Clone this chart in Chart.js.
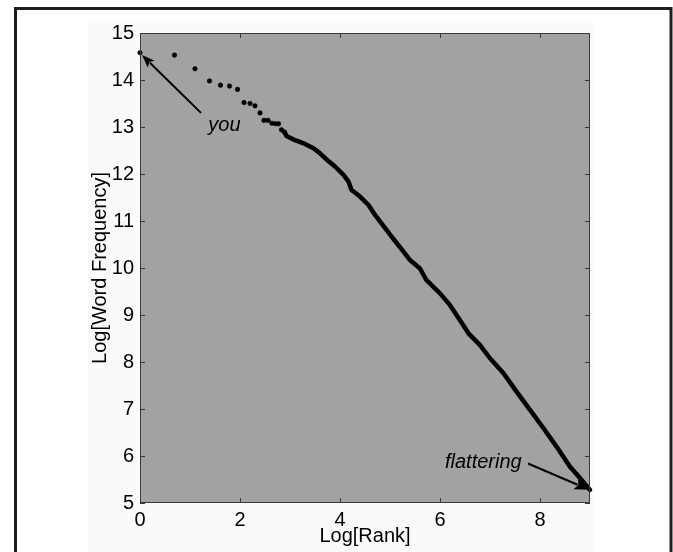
<!DOCTYPE html>
<html>
<head>
<meta charset="utf-8">
<script src="https://cdn.jsdelivr.net/npm/chart.js@4"></script>
<style>
  html, body { margin: 0; padding: 0; background: #fff; }
  canvas { display: block; }
</style>
</head>
<body>
<canvas id="chart" width="673" height="552"></canvas>
<script>
// first ranks, drawn as single dots
const dotX = [0, 0.69, 1.10, 1.39, 1.61, 1.79, 1.95, 2.08, 2.20, 2.30, 2.40, 2.48, 2.56, 2.64, 2.71, 2.77, 2.83, 2.89];
const dotY = [14.58, 14.53, 14.24, 13.98, 13.89, 13.87, 13.80, 13.52, 13.50, 13.45, 13.30, 13.14, 13.14, 13.08, 13.07, 13.07, 12.94, 12.89];

// dense tail, drawn as a thick line
const curveX = [2.89, 2.93, 3.10, 3.30, 3.47, 3.60, 3.73, 3.90, 4.07, 4.17, 4.23, 4.40, 4.57, 4.70, 4.83, 4.93, 5.03,
                5.27, 5.40, 5.60, 5.73, 6.00, 6.20, 6.40, 6.57, 6.80, 7.00, 7.27, 7.53, 7.80, 8.07, 8.33, 8.60, 8.80, 9.00];
const curveY = [12.89, 12.81, 12.72, 12.64, 12.55, 12.44, 12.31, 12.16, 11.98, 11.84, 11.66, 11.52, 11.34, 11.13, 10.95, 10.81, 10.67,
                10.35, 10.17, 9.99, 9.74, 9.46, 9.21, 8.89, 8.61, 8.36, 8.08, 7.76, 7.37, 6.98, 6.59, 6.20, 5.77, 5.53, 5.28];

const xTicks = [0, 2, 4, 6, 8];
const yTicks = [5, 6, 7, 8, 9, 10, 11, 12, 13, 14, 15];

const xTitle = 'Log[Rank]';
const yTitle = 'Log[Word Frequency]';

// annotations in data units
const notes = [
    { text: 'you', at: [1.366, 12.915], align: 'left', from: [1.22, 13.30], to: [0.04, 14.53], head: 13 },
    { text: 'flattering', at: [7.634, 5.745], align: 'right', from: [7.76, 5.84], to: [8.99, 5.28], head: 15 },
];

const FONT = "'Liberation Sans', Arial, Helvetica, sans-serif";

// Hintergrund, Rahmen, Plotfläche
const backdrop = {
    id: 'backdrop',
    beforeDraw(chart) {
        const { ctx, chartArea: a } = chart;
        ctx.save();
        ctx.fillStyle = '#ffffff';
        ctx.fillRect(0, 0, chart.width, chart.height);
        ctx.fillStyle = '#fafafa';
        ctx.fillRect(88, 23, 506, chart.height - 23);
        ctx.strokeStyle = '#1e1e1e';
        ctx.lineWidth = 3;
        ctx.strokeRect(15.5, 8.5, 655.5, chart.height + 10);
        ctx.fillStyle = '#a2a2a2';
        ctx.fillRect(a.left, a.top, a.right - a.left, a.bottom - a.top);
        ctx.restore();
    },
};

// Achsenbox, Ticks nach innen, Pfeile und Beschriftungen
const overlay = {
    id: 'overlay',
    afterDatasetsDraw(chart) {
        const { ctx, chartArea: a, scales: { x, y } } = chart;
        ctx.save();
        ctx.strokeStyle = '#3a3a3a';
        ctx.lineWidth = 1;
        ctx.strokeRect(a.left + 0.5, a.top + 0.5, a.right - a.left - 1, a.bottom - a.top - 1);
        ctx.beginPath();
        const t = 5;
        xTicks.forEach(v => {
            const px = Math.round(x.getPixelForValue(v)) + 0.5;
            ctx.moveTo(px, a.bottom); ctx.lineTo(px, a.bottom - t);
            ctx.moveTo(px, a.top); ctx.lineTo(px, a.top + t);
        });
        yTicks.forEach(v => {
            const py = Math.round(y.getPixelForValue(v)) + 0.5;
            ctx.moveTo(a.left, py); ctx.lineTo(a.left + t, py);
            ctx.moveTo(a.right, py); ctx.lineTo(a.right - t, py);
        });
        ctx.stroke();

        notes.forEach(n => {
            const x1 = x.getPixelForValue(n.from[0]), y1 = y.getPixelForValue(n.from[1]);
            const x2 = x.getPixelForValue(n.to[0]), y2 = y.getPixelForValue(n.to[1]);
            const ang = Math.atan2(y2 - y1, x2 - x1);
            const hl = n.head, hw = n.head * 0.38;
            const bx = x2 - hl * Math.cos(ang), by = y2 - hl * Math.sin(ang);
            ctx.strokeStyle = '#000';
            ctx.fillStyle = '#000';
            ctx.lineWidth = 2;
            ctx.beginPath();
            ctx.moveTo(x1, y1);
            ctx.lineTo(bx + 2 * Math.cos(ang), by + 2 * Math.sin(ang));
            ctx.stroke();
            ctx.beginPath();
            ctx.moveTo(x2, y2);
            ctx.lineTo(bx - hw * Math.sin(ang), by + hw * Math.cos(ang));
            ctx.lineTo(bx + 3 * Math.cos(ang), by + 3 * Math.sin(ang));
            ctx.lineTo(bx + hw * Math.sin(ang), by - hw * Math.cos(ang));
            ctx.closePath();
            ctx.fill();

            ctx.font = 'italic 20px ' + FONT;
            ctx.textAlign = n.align;
            ctx.textBaseline = 'alphabetic';
            ctx.fillText(n.text, x.getPixelForValue(n.at[0]), y.getPixelForValue(n.at[1]));
        });
        ctx.restore();
    },
};

new Chart(document.getElementById('chart'), {
    type: 'scatter',
    data: {
        datasets: [{
            data: curveX.map((v, i) => ({ x: v, y: curveY[i] })),
            showLine: true,
            borderColor: '#000',
            borderWidth: 4.5,
            pointRadius: 0,
            tension: 0,
            borderJoinStyle: 'round',
            borderCapStyle: 'round',
            clip: false,
        }, {
            data: dotX.map((v, i) => ({ x: v, y: dotY[i] })),
            pointRadius: 2.3,
            pointBackgroundColor: '#000',
            pointBorderColor: '#000',
            pointBorderWidth: 0.5,
            clip: false,
        }],
    },
    options: {
        responsive: false,
        animation: false,
        events: [],
        layout: { padding: { left: 0, top: 33, right: 83, bottom: 0 } },
        plugins: { legend: { display: false }, tooltip: { enabled: false } },
        scales: {
            x: {
                type: 'linear', min: 0, max: 9,
                afterBuildTicks: s => { s.ticks = xTicks.map(v => ({ value: v })); },
                afterFit: s => { s.height = 49; },
                grid: { display: false, drawTicks: false },
                border: { display: false },
                ticks: { color: '#000', padding: 5, font: { family: FONT, size: 20 } },
                title: { display: true, text: xTitle, color: '#000', padding: { top: 0, bottom: 4 }, font: { family: FONT, size: 20 } },
            },
            y: {
                type: 'linear', min: 5, max: 15,
                afterBuildTicks: s => { s.ticks = yTicks.map(v => ({ value: v })); },
                afterFit: s => { s.width = 140; },
                grid: { display: false, drawTicks: false },
                border: { display: false },
                ticks: { color: '#000', padding: 6, font: { family: FONT, size: 20 } },
                title: { display: true, text: yTitle, color: '#000', padding: { top: 90, bottom: 0 }, font: { family: FONT, size: 20, lineHeight: 1 } },
            },
        },
    },
    plugins: [backdrop, overlay],
});
</script>
</body>
</html>
